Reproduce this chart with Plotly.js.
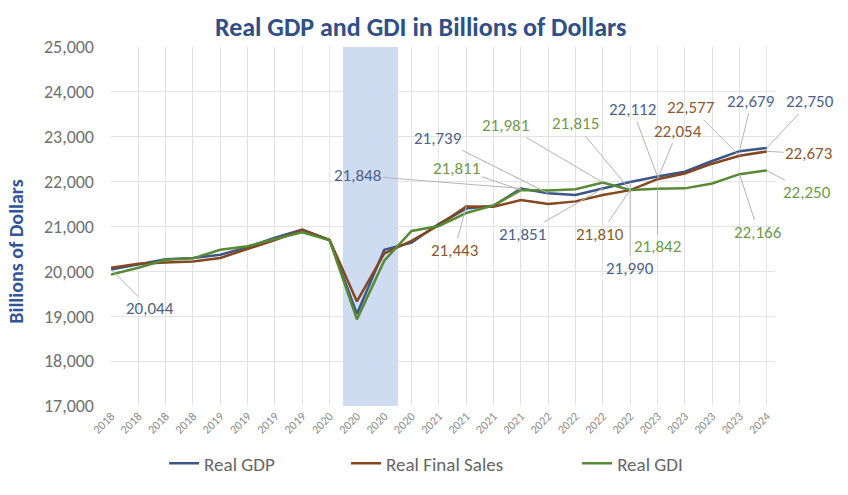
<!DOCTYPE html>
<html>
<head>
<meta charset="utf-8">
<script src="https://cdn.plot.ly/plotly-3.0.1.min.js"></script>
<style>
  html, body { margin: 0; padding: 0; background: #fff; }
  #chart { width: 848px; height: 495px; }
</style>
</head>
<body>
<div id="chart"></div>
<script>
// quarters 2018 Q1 .. 2024 Q1
let quarterLabels = ['2018', '2018', '2018', '2018', '2019', '2019', '2019', '2019',
  '2020', '2020', '2020', '2020', '2021', '2021', '2021', '2021',
  '2022', '2022', '2022', '2022', '2023', '2023', '2023', '2023', '2024'];

let realGDP = [20044, 20150, 20270, 20300, 20370, 20540, 20750, 20930, 20700, 19050, 20480, 20640,
  21060, 21400, 21460, 21848, 21739, 21700, 21851, 21990, 22112, 22220, 22460, 22679, 22750];

let realFinalSales = [20080, 20170, 20200, 20220, 20300, 20500, 20700, 20920, 20700, 19330, 20400, 20680,
  21030, 21443, 21440, 21590, 21500, 21560, 21700, 21810, 22054, 22180, 22400, 22577, 22673];

let realGDI = [19930, 20080, 20260, 20290, 20480, 20560, 20720, 20870, 20690, 18930, 20240, 20900,
  21010, 21300, 21470, 21811, 21800, 21830, 21981, 21815, 21842, 21850, 21960, 22166, 22250];

// recession shading (covid quarters)
let recession = [0, 0, 0, 0, 0, 0, 0, 0, 0, 25000, 25000, 0,
  0, 0, 0, 0, 0, 0, 0, 0, 0, 0, 0, 0, 0];

let xIdx = quarterLabels.map((_, i) => i);

let colors = {
  gdp: '#3b5688',
  sales: '#84471f',
  gdi: '#568a34'
};
let labelColors = {
  gdp: '#4f6285',
  sales: '#8a5a2e',
  gdi: '#6f9a4a'
};

let font = 'Carlito, Lato, "Open Sans", sans-serif';

// data labels: which series, which quarter, and where the text sits (px offset)
let callouts = [
  ['gdp', 0, 39, 39],
  ['gdp', 15, -163, -13],
  ['gdp', 16, -110, -55],
  ['gdi', 15, -64, -22],
  ['gdi', 18, -97, -57],
  ['gdi', 19, -55, -66],
  ['gdp', 20, -25, -67],
  ['sales', 23, -48, -48],
  ['gdp', 23, 12, -50],
  ['gdp', 24, 43, -46],
  ['sales', 20, 20, -48],
  ['sales', 24, 42, 2],
  ['gdi', 24, 40, 22],
  ['gdi', 23, 19, 58],
  ['gdi', 20, 0, 58],
  ['gdp', 19, 0, 86],
  ['sales', 19, -30, 44],
  ['gdp', 18, -80, 46],
  ['sales', 13, -12, 44]
];

let seriesData = { gdp: realGDP, sales: realFinalSales, gdi: realGDI };

let annotations = callouts.map(([key, i, ax, ay]) => ({
  x: i,
  y: seriesData[key][i],
  xref: 'x', yref: 'y',
  text: seriesData[key][i].toLocaleString('en-US'),
  showarrow: true,
  arrowhead: 0,
  arrowwidth: 1,
  arrowcolor: '#b4b4b4',
  ax: ax, ay: ay,
  font: { family: font, size: 17, color: labelColors[key] }
}));

// y axis title drawn as an annotation so it can sit a bit below the middle
annotations.push({
  text: '<b>Billions of Dollars</b>',
  xref: 'paper', yref: 'paper',
  x: -0.143, y: 0.43,
  xanchor: 'center', yanchor: 'middle',
  textangle: -90,
  showarrow: false,
  font: { family: font, size: 20, color: '#2f5597' }
});

let traces = [
  {
    x: xIdx, y: recession,
    type: 'bar',
    marker: { color: '#cfdbf1' },
    width: 1,
    showlegend: false,
    hoverinfo: 'skip'
  },
  {
    x: xIdx, y: realGDP,
    name: 'Real GDP',
    mode: 'lines',
    line: { color: colors.gdp, width: 2.5 },
    legend: 'legend'
  },
  {
    x: xIdx, y: realFinalSales,
    name: 'Real Final Sales',
    mode: 'lines',
    line: { color: colors.sales, width: 2.5 },
    legend: 'legend2'
  },
  {
    x: xIdx, y: realGDI,
    name: 'Real GDI',
    mode: 'lines',
    line: { color: colors.gdi, width: 2.5 },
    legend: 'legend3'
  }
];

let legendStyle = (x) => ({
  orientation: 'h',
  x: x, xanchor: 'left',
  y: -0.16, yanchor: 'middle',
  font: { family: font, size: 19, color: '#666' },
  itemwidth: 30,
  bgcolor: 'rgba(0,0,0,0)'
});

Plotly.newPlot(document.getElementById('chart'), traces, {
  width: 848,
  height: 495,
  margin: { l: 111, r: 73, t: 47, b: 85 },
  paper_bgcolor: '#fff',
  plot_bgcolor: '#fff',
  bargap: 0,
  title: {
    text: '<b>Real GDP and GDI in Billions of Dollars</b>',
    font: { family: font, size: 26, color: '#2f4f86' },
    x: 0.496, xanchor: 'center',
    y: 0.945, yanchor: 'middle'
  },
  xaxis: {
    range: [0, 24.3],
    tickvals: xIdx,
    ticktext: quarterLabels,
    tickangle: -45,
    tickfont: { family: font, size: 12, color: '#8a8a8a' },
    showgrid: true,
    gridcolor: '#e3e3e3',
    zeroline: false,
    showline: false,
    ticks: ''
  },
  yaxis: {
    range: [17000, 25000],
    dtick: 1000,
    tickformat: ',d',
    tickfont: { family: font, size: 18, color: '#707070' },
    showgrid: true,
    gridcolor: '#e3e3e3',
    zeroline: false,
    ticklabelstandoff: 16
  },
  legend: legendStyle(0.08),
  legend2: legendStyle(0.354),
  legend3: legendStyle(0.702),
  annotations: annotations,
  showlegend: true
}, { displayModeBar: false });
</script>
</body>
</html>
